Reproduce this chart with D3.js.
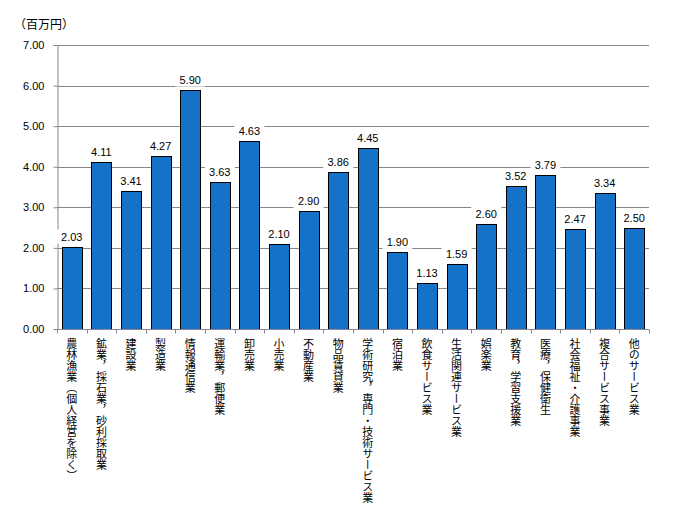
<!DOCTYPE html>
<html><head><meta charset="utf-8">
<script src="https://cdn.jsdelivr.net/npm/d3@7"></script>
<style>body{margin:0;background:#fff}</style>
</head><body>
<svg id="c" width="700" height="515"></svg>
<script>
const categories = ["農林漁業（個人経営を除く）","鉱業，採石業，砂利採取業","建設業","製造業","情報通信業","運輸業，郵便業","卸売業","小売業","不動産業","物品賃貸業","学術研究，専門・技術サービス業","宿泊業","飲食サービス業","生活関連サービス業","娯楽業","教育，学習支援業","医療，保健衛生","社会福祉・介護事業","複合サービス事業","他のサービス業"];
const values = [2.03,4.11,3.41,4.27,5.90,3.63,4.63,2.10,2.90,3.86,4.45,1.90,1.13,1.59,2.60,3.52,3.79,2.47,3.34,2.50];
const yTicks = [0,1,2,3,4,5,6,7];
const unitLabel = "（百万円）";

(function(){
const svg = d3.select("#c");
const mLeft = 57, mRight = 649, mTop = 45, mBottom = 329;
const x = d3.scaleBand().domain(categories).range([mLeft, mRight]).paddingInner(0.32).paddingOuter(0.16);
const y = d3.scaleLinear().domain([0,7]).range([mBottom, mTop]);
const font = "'Noto Sans CJK JP', sans-serif";

// gridlines
svg.append("g").selectAll("line").data(yTicks.filter(d=>d>0)).join("line")
  .attr("x1", mLeft).attr("x2", mRight).attr("y1", d=>Math.round(y(d))+0.5).attr("y2", d=>Math.round(y(d))+0.5)
  .attr("stroke", "#868686").attr("stroke-width", 1);

// y axis
const ya = svg.append("g").attr("transform", `translate(${mLeft+0.5},0)`)
  .call(d3.axisLeft(y).tickValues(yTicks).tickFormat(d3.format(".2f")).tickSize(4).tickPadding(9));
ya.select(".domain").attr("stroke", "#8a849a");
ya.selectAll(".tick line").attr("stroke", "#8a849a");
ya.selectAll("text").attr("font-family", "'Liberation Sans', Arial, sans-serif").attr("font-size", 11).attr("fill", "#000");

// bars
svg.append("g").selectAll("rect").data(values).join("rect")
  .attr("x", (d,i)=>Math.round(x(categories[i]))+0.5)
  .attr("y", d=>Math.round(y(d))+0.5)
  .attr("width", Math.round(x.bandwidth()))
  .attr("height", d=>Math.round(y(0))-Math.round(y(d)))
  .attr("fill", "#1672c8").attr("stroke", "#000").attr("stroke-width", 1);

// x axis
const xa = svg.append("g").attr("transform", `translate(0,${Math.round(mBottom)+0.5})`);
xa.append("line").attr("x1", mLeft).attr("x2", mRight).attr("stroke", "#8a849a");
const edges = d3.range(categories.length+1).map(i => mLeft + i*(mRight-mLeft)/categories.length);
xa.selectAll("line.t").data(edges).join("line").attr("class","t")
  .attr("x1", d=>Math.round(d)+0.5).attr("x2", d=>Math.round(d)+0.5).attr("y1",0).attr("y2",4)
  .attr("stroke", "#8a849a");

// value labels
const lg = svg.append("g");
values.forEach((v,i)=>{
  const cx = x(categories[i]) + x.bandwidth()/2;
  const ty = y(v) - 6;
  lg.append("rect").attr("x", cx-15).attr("y", ty-11).attr("width", 30).attr("height", 14).attr("fill", "#fff");
  lg.append("text").attr("x", cx).attr("y", ty).attr("text-anchor","middle")
    .attr("font-family", "'Liberation Sans', Arial, sans-serif").attr("font-size", 11).attr("fill","#000")
    .text(d3.format(".2f")(v));
});

// category labels (vertical)
svg.append("g").selectAll("text").data(categories).join("text")
  .attr("x", d=>x(d)+x.bandwidth()/2)
  .attr("y", mBottom+9)
  .attr("writing-mode", "vertical-rl")
  .attr("font-family", font).attr("font-size", 11).attr("fill", "#000")
  .text(d=>d);

// unit label
svg.append("text").attr("x", 14).attr("y", 29).attr("font-family", font).attr("font-size", 12).attr("fill","#000").text(unitLabel);
})();
</script>
</body></html>
